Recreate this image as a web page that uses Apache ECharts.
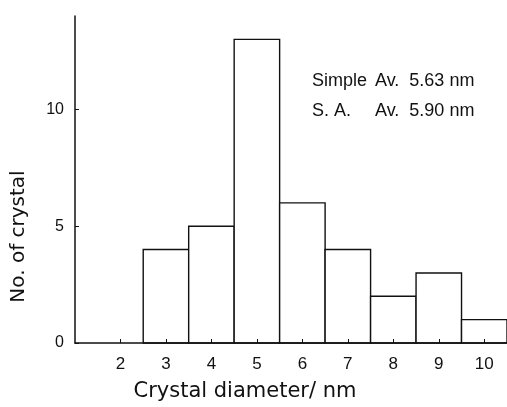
<!DOCTYPE html>
<html>
<head>
<meta charset="utf-8">
<script src="https://cdn.jsdelivr.net/npm/echarts@6/dist/echarts.min.js"></script>
<style>
  html, body { margin: 0; padding: 0; background: #fff; }
  #chart { width: 507px; height: 407px; }
</style>
</head>
<body>
<div id="chart"></div>
<script>
// diameter bins (nm) and crystal counts
const diameters = [3, 4, 5, 6, 7, 8, 9, 10]
const counts = [4, 5, 13, 6, 4, 2, 3, 1]
const noteNames = ['Simple', 'S. A.']
const noteValues = ['Av.  5.63 nm', 'Av.  5.90 nm']

const font = 'Liberation Sans, Arial, sans-serif'
const nameFont = 'DejaVu Sans, sans-serif'
const myChart = echarts.init(document.getElementById('chart'))

myChart.setOption({
  animation: false,
  grid: { left: 75, right: 0, top: 16, bottom: 64, outerBoundsMode: 'none', containLabel: false },
  xAxis: {
    type: 'value', min: 1, max: 10.5, interval: 1,
    name: 'Crystal diameter/ nm', nameLocation: 'middle', nameGap: 38,
    nameTextStyle: { fontFamily: nameFont, fontSize: 21, color: '#111', padding: [0, 92, 0, 0] },
    axisLine: { lineStyle: { color: '#111', width: 1.5 } },
    axisTick: { inside: true, length: 4, lineStyle: { color: '#111' } },
    axisLabel: {
      fontFamily: font, fontSize: 17, color: '#111', margin: 13,
      showMinLabel: false, showMaxLabel: false
    },
    splitLine: { show: false }
  },
  yAxis: {
    type: 'value', min: 0, max: 14, interval: 5,
    name: 'No. of crystal', nameLocation: 'middle', nameGap: 46,
    nameTextStyle: { fontFamily: nameFont, fontSize: 20, color: '#111', padding: [0, 114, 0, 0] },
    axisLine: { show: true, lineStyle: { color: '#111', width: 1.5 } },
    axisTick: { show: true, inside: true, length: 4, lineStyle: { color: '#111' } },
    axisLabel: { fontFamily: font, fontSize: 16, color: '#111', margin: 11, showMaxLabel: false },
    splitLine: { show: false }
  },
  series: [{
    type: 'custom',
    z: -1,
    data: diameters.map((d, i) => [d, counts[i]]),
    renderItem: (params, api) => {
      const x = api.value(0)
      const y = api.value(1)
      const p0 = api.coord([x - 0.5, y])
      const p1 = api.coord([x + 0.5, 0])
      return {
        type: 'rect',
        shape: { x: p0[0], y: p0[1], width: p1[0] - p0[0], height: p1[1] - p0[1] },
        style: { fill: '#fff', stroke: '#111', lineWidth: 1.4 }
      }
    }
  }],
  graphic: noteNames.map((t, i) => ({
    type: 'text', left: 312, top: 72 + i * 30,
    style: { text: t, fontFamily: font, fontSize: 18, fill: '#111' }
  })).concat(noteValues.map((t, i) => ({
    type: 'text', left: 375, top: 72 + i * 30,
    style: { text: t, fontFamily: font, fontSize: 18, fill: '#111' }
  })))
})
</script>
</body>
</html>
